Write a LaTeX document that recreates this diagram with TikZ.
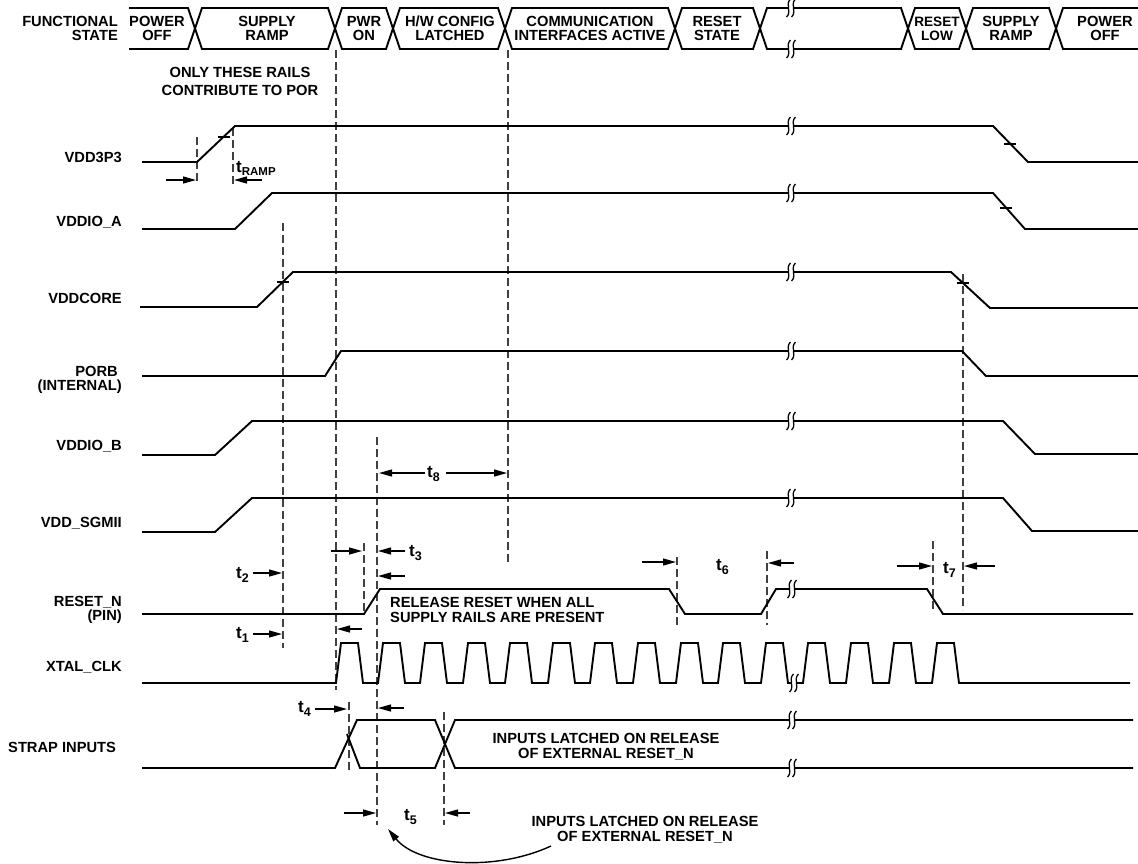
\documentclass[tikz,border=0pt]{standalone}
\usepackage{fontspec}
\setmainfont{Liberation Sans}
\usetikzlibrary{arrows.meta}
\newcommand\lblfont{\bfseries\fontsize{14.7}{15}\selectfont}
\newcommand\narrowfont{\bfseries\fontsize{13.6}{15}\selectfont}
\newcommand\tlabfont{\bfseries\fontsize{17}{17}\selectfont}
\newcommand\tsb[1]{\raisebox{-4pt}{\fontsize{12.5}{12.5}\selectfont\bfseries #1}}
\newcommand\tsbs[1]{\raisebox{-3pt}{\fontsize{11.5}{11.5}\selectfont\bfseries #1}}
\newcommand\sigbreak[2]{%
  \fill[white] (#1-2.6,#2-2.8) rectangle (#1+2.6,#2+2.8);
  \draw[brk] (#1-0.6,#2-9) .. controls (#1-6.2,#2-3) and (#1+1.2,#2+3) .. (#1-4.4,#2+9);
  \draw[brk] (#1+4.4,#2-9) .. controls (#1-1.2,#2-3) and (#1+6.2,#2+3) .. (#1+0.6,#2+9);
}
\begin{document}
\begin{tikzpicture}[x=1pt,y=-1pt,
  sig/.style={line width=1.9pt,line join=miter,line cap=butt},
  dsh/.style={line width=1.1pt,black!75,dash pattern=on 8pt off 4pt},
  tarr/.style={line width=1.3pt,-{Triangle[length=13pt,width=7pt]}},
  tickmark/.style={line width=1.1pt},
  brk/.style={line width=1.3pt},
  lbl/.style={font=\lblfont,inner sep=0pt},
  tl/.style={font=\tlabfont,inner sep=0pt},
]
\useasboundingbox (0,0) rectangle (1138,863);

% ---------- functional state bus ----------
\draw[sig] (129,8)--(188,8)--(202,49)--(328,49)--(342,8)--(386,8)--(400,49)--(498,49)--(512,8)--(668,8)--(682,49)--(753,49)--(767,8)--(901,8)--(915,49)--(959,49)--(973,8)--(1049,8)--(1063,49)--(1138,49);
\draw[sig] (129,49)--(188,49)--(202,8)--(328,8)--(342,49)--(386,49)--(400,8)--(498,8)--(512,49)--(668,49)--(682,8)--(753,8)--(767,49)--(901,49)--(915,8)--(959,8)--(973,49)--(1049,49)--(1063,8)--(1138,8);

\node[lbl,anchor=base east] (fs1) at (118,26.5) {FUNCTIONAL};
\node[lbl,anchor=base east] (fs2) at (118,40.5) {STATE};
\node[lbl,anchor=base] (b1a) at (157,26.5) {POWER};
\node[lbl,anchor=base] (b1b) at (157,40.5) {OFF};
\node[lbl,anchor=base] (b2a) at (267,26.5) {SUPPLY};
\node[lbl,anchor=base] (b2b) at (267,40.5) {RAMP};
\node[lbl,anchor=base] (b3a) at (364,26.5) {PWR};
\node[lbl,anchor=base] (b3b) at (364,40.5) {ON};
\node[lbl,anchor=base] (b4a) at (450,26.5) {H/W CONFIG};
\node[lbl,anchor=base] (b4b) at (450,40.5) {LATCHED};
\node[lbl,anchor=base] (b5a) at (590,26.5) {COMMUNICATION};
\node[lbl,anchor=base] (b5b) at (590,40.5) {INTERFACES ACTIVE};
\node[lbl,anchor=base] (b6a) at (717,26.5) {RESET};
\node[lbl,anchor=base] (b6b) at (717,40.5) {STATE};
\node[lbl,anchor=base,font=\narrowfont] (b7a) at (937,26.5) {RESET};
\node[lbl,anchor=base,font=\narrowfont] (b7b) at (937,40.5) {LOW};
\node[lbl,anchor=base] (b8a) at (1011,26.5) {SUPPLY};
\node[lbl,anchor=base] (b8b) at (1011,40.5) {RAMP};
\node[lbl,anchor=base] (b9a) at (1105,26.5) {POWER};
\node[lbl,anchor=base] (b9b) at (1105,40.5) {OFF};

\node[lbl,anchor=base] (por1) at (240,77.5) {ONLY THESE RAILS};
\node[lbl,anchor=base] (por2) at (240,95.7) {CONTRIBUTE TO POR};

% ---------- signal labels ----------
\node[lbl,anchor=base east] (l1) at (122,162) {VDD3P3};
\node[lbl,anchor=base east] (l2) at (122,226.7) {VDDIO\_A};
\node[lbl,anchor=base east] (l3) at (122,303) {VDDCORE};
\node[lbl,anchor=base east] (l4a) at (118,376.5) {PORB};
\node[lbl,anchor=base east] (l4b) at (122,390.5) {(INTERNAL)};
\node[lbl,anchor=base east] (l5) at (122,450) {VDDIO\_B};
\node[lbl,anchor=base east] (l6) at (122,527.3) {VDD\_SGMII};
\node[lbl,anchor=base east] (l7a) at (122,606.5) {RESET\_N};
\node[lbl,anchor=base east] (l7b) at (122,620.5) {(PIN)};
\node[lbl,anchor=base east] (l8) at (122,671.5) {XTAL\_CLK};
\node[lbl,anchor=base west] (l9) at (8,752.5) {STRAP INPUTS};

% ---------- dashed reference lines ----------
\draw[dsh] (197,137)--(197,184);
\draw[dsh] (233,128)--(233,184);
\draw[dsh] (283,223)--(283,648);
\draw[dsh] (336,50)--(336,690);
\draw[dsh] (508,50)--(508,565);
\draw[dsh] (377,437)--(377,825);
\draw[dsh] (364,543)--(364,613);
\draw[dsh] (349,702)--(349,772);
\draw[dsh] (444,712)--(444,825);
\draw[dsh] (677,557)--(677,625);
\draw[dsh] (767,551)--(767,625);
\draw[dsh] (933,541)--(933,613);
\draw[dsh] (963,274)--(963,610);

% ---------- signals ----------
\draw[sig] (142,162)--(197,162)--(235,126)--(993,126)--(1028,162)--(1138,162);
\draw[sig] (142,229)--(235,229)--(272,193)--(993,193)--(1025,229)--(1138,229);
\draw[sig] (140,307)--(257,307)--(293,272)--(951,272)--(990,308)--(1138,308);
\draw[sig] (142,376)--(325,376)--(341,351)--(962,351)--(986,376)--(1138,376);
\draw[sig] (142,455)--(215,455)--(252,421)--(1003,421)--(1035,454)--(1138,454);
\draw[sig] (142,532)--(215,532)--(252,498)--(1003,498)--(1032,531)--(1138,531);
\draw[sig] (142,614)--(364,614)--(380,589)--(669,589)--(685,614)--(761,614)--(776,589)--(927,589)--(943,614)--(1133,614);
\draw[sig] (142,683) \foreach \p in {336,378,420,463,505,548,590,633,676,718,761,803,846,889,932} { -- (\p,683) -- (\p+5,643) -- (\p+22,643) -- (\p+27,683) } -- (1130,683);
% strap inputs
\draw[sig] (142,768)--(335,768)--(357,720)--(435,720)--(455,768)--(1133,768);
\draw[sig] (347,734)--(360,768)--(435,768)--(455,720)--(1133,720);

% ---------- small ticks on ramps ----------
\draw[tickmark] (218,137)--(230,137);
\draw[tickmark] (1004,144)--(1016,144);
\draw[tickmark] (1000,208)--(1012,208);
\draw[tickmark] (277,282)--(289,282);
\draw[tickmark] (957,283)--(969,283);

% ---------- breaks ----------
\sigbreak{791}{8}
\sigbreak{791}{49}
\sigbreak{791}{126}
\sigbreak{791}{193}
\sigbreak{791}{272}
\sigbreak{791}{351}
\sigbreak{791}{421}
\sigbreak{791}{498}
\sigbreak{792}{589}
\sigbreak{794}{683}
\sigbreak{792}{720}
\sigbreak{792}{768}

% ---------- timing arrows ----------
\draw[tarr] (166,180)--(196,180);
\draw[tarr] (262,180)--(234,180);
\node[tl,anchor=base west] (tramp) at (236,172) {t\tsbs{RAMP}};

\draw[tarr] (253,573)--(282,573);
\node[tl,anchor=base east] (t2) at (249,578) {t\tsb{2}};
\draw[tarr] (253,634)--(282,634);
\node[tl,anchor=base east] (t1) at (249,638) {t\tsb{1}};

\draw[tarr] (331,551)--(362,551);
\draw[tarr] (405,551)--(378,551);
\node[tl,anchor=base west] (t3) at (409,556.5) {t\tsb{3}};
\draw[tarr] (405,576)--(378,576);
\draw[tarr] (362,629)--(337,629);

\draw[tarr] (425,473)--(379,473);
\draw[tarr] (446,473)--(507,473);
\node[tl,anchor=base west] (t8) at (427,477) {t\tsb{8}};

\draw[tarr] (315,709)--(347,709);
\node[tl,anchor=base east] (t4) at (311,712) {t\tsb{4}};
\draw[tarr] (404,708)--(378,708);

\draw[tarr] (344,813)--(376,813);
\draw[tarr] (470,813)--(445,813);
\node[tl,anchor=base west] (t5) at (404,820) {t\tsb{5}};

\draw[tarr] (642,562)--(676,562);
\draw[tarr] (794,563)--(768,563);
\node[tl,anchor=base west] (t6) at (716,570) {t\tsb{6}};

\draw[tarr] (897,566)--(932,566);
\draw[tarr] (995,566)--(964,566);
\node[tl,anchor=base west] (t7) at (943,573) {t\tsb{7}};

% ---------- annotations ----------
\node[lbl,anchor=base west] (rel1) at (390,607.5) {RELEASE RESET WHEN ALL};
\node[lbl,anchor=base west] (rel2) at (390,622.5) {SUPPLY RAILS ARE PRESENT};
\node[lbl,anchor=base] (lat1) at (606,743.3) {INPUTS LATCHED ON RELEASE};
\node[lbl,anchor=base] (lat2) at (606,758.3) {OF EXTERNAL RESET\_N};
\node[lbl,anchor=base] (lat3) at (645,826) {INPUTS LATCHED ON RELEASE};
\node[lbl,anchor=base] (lat4) at (645,841) {OF EXTERNAL RESET\_N};
\coordinate (cstart) at (551,846);
\coordinate (cend) at (388,829);
\draw[line width=1.4pt,-{Triangle[length=13pt,width=7pt]}] (cstart) .. controls (495,872) and (418,866) .. (cend);
\end{tikzpicture}
\end{document}
